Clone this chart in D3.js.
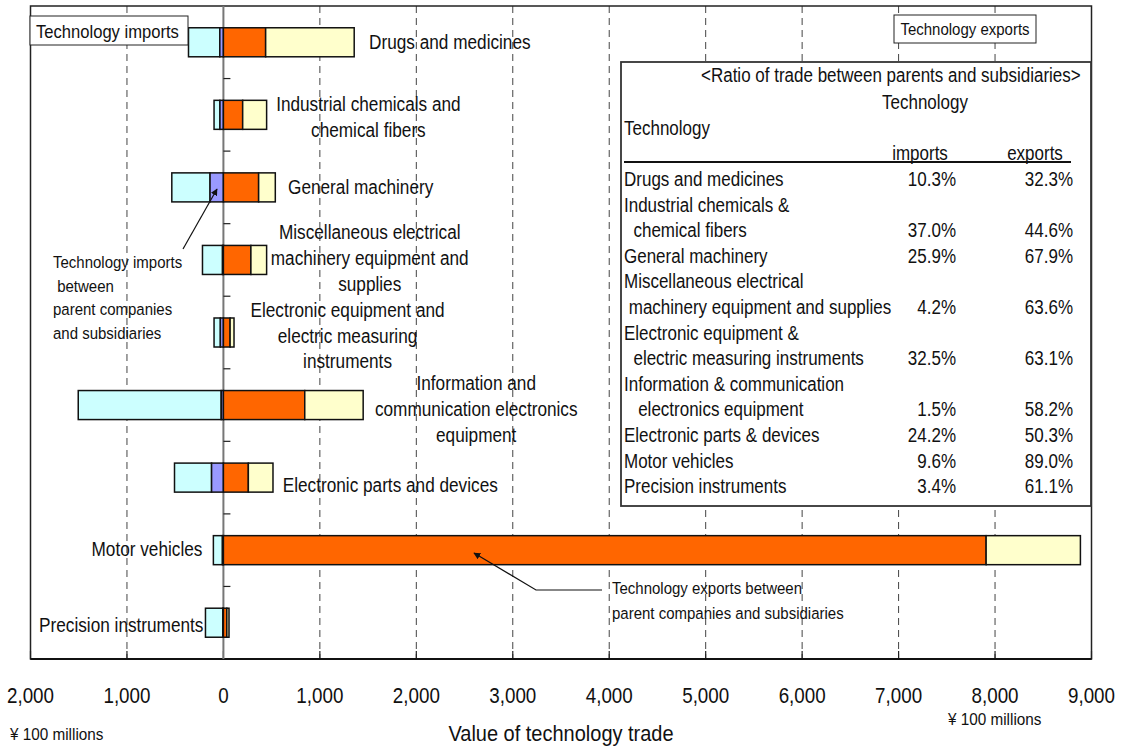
<!DOCTYPE html>
<html>
<head>
<meta charset="utf-8">
<script src="https://cdn.jsdelivr.net/npm/d3@7/dist/d3.min.js"></script>
<style>
    body { margin: 0; background: #ffffff; }
    svg text { font-family: "Liberation Sans", Arial, sans-serif; fill: #111111; white-space: pre; }
</style>
</head>
<body>
<svg id="canvas" width="1122" height="749"></svg>
<script>
// industries, top to bottom
let categories = [
    'Drugs and medicines',
    'Industrial chemicals and chemical fibers',
    'General machinery',
    'Miscellaneous electrical machinery equipment and supplies',
    'Electronic equipment and electric measuring instruments',
    'Information and communication electronics equipment',
    'Electronic parts and devices',
    'Motor vehicles',
    'Precision instruments'
]

// label lines shown next to the bars
let chartLabels = [
    ['Drugs and medicines'],
    ['Industrial chemicals and', 'chemical fibers'],
    ['General machinery'],
    ['Miscellaneous electrical', 'machinery equipment and', 'supplies'],
    ['Electronic equipment and', 'electric measuring', 'instruments'],
    ['Information and', 'communication electronics', 'equipment'],
    ['Electronic parts and devices'],
    ['Motor vehicles'],
    ['Precision instruments']
]

// value of technology trade, 100 million yen
let importTotals = [362, 97, 535, 217, 97, 1505, 507, 104, 186]
let exportTotals = [1356, 448, 538, 448, 110, 1449, 514, 8885, 58]

// share of trade between parents and subsidiaries, %
let importRatio = [10.3, 37.0, 25.9, 4.2, 32.5, 1.5, 24.2, 9.6, 3.4]
let exportRatio = [32.3, 44.6, 67.9, 63.6, 63.1, 58.2, 50.3, 89.0, 61.1]

// names as written in the table
let tableNames = [
    ['Drugs and medicines'],
    ['Industrial chemicals &', '  chemical fibers'],
    ['General machinery'],
    ['Miscellaneous electrical', ' machinery equipment and supplies'],
    ['Electronic equipment &', '  electric measuring instruments'],
    ['Information & communication', '   electronics equipment'],
    ['Electronic parts & devices'],
    ['Motor vehicles'],
    ['Precision instruments']
]

let xTicks = [-2000, -1000, 0, 1000, 2000, 3000, 4000, 5000, 6000, 7000, 8000, 9000]

// where each chart label sits: anchor, value on x axis, vertical nudge
let labelLayout = [
    ['start', 1510, 0], ['middle', 1503, 2], ['start', 670, 0],
    ['middle', 1517, -2], ['middle', 1287, 3], ['middle', 2621, 4],
    ['start', 615, 7], ['end', -218, -1], ['end', -207, 2]
]

let colors = {
    imp: '#ccffff',
    impParent: '#9999ff',
    expParent: '#ff6600',
    exp: '#ffffcc'
}

let canvas = d3.select('#canvas')

let plotLeft = 30.5, plotRight = 1091.5, plotTop = 6, plotBottom = 659

// the original type is a bit condensed
let squeeze = 0.88

let addText = (parent, x, y, str, size, anchor) => {
    return parent.append('text')
        .attr('transform', 'translate(' + x + ',' + y + ') scale(' + squeeze + ',1)')
        .attr('dy', '0.36em')
        .attr('font-size', size / squeeze)
        .attr('text-anchor', anchor || 'start')
        .text(str)
}

let xScale = d3.scaleLinear()
                .domain([-2000, 9000])
                .range([plotLeft, plotRight])

let yScale = d3.scaleBand()
                .domain(categories)
                .range([plotTop, plotBottom])
                .paddingInner(0.6)
                .paddingOuter(0.3)

let defs = canvas.append('defs')
defs.append('marker')
    .attr('id', 'arrow')
    .attr('viewBox', '0 0 10 10')
    .attr('refX', 9)
    .attr('refY', 5)
    .attr('markerWidth', 7)
    .attr('markerHeight', 7)
    .attr('markerUnits', 'userSpaceOnUse')
    .attr('orient', 'auto')
    .append('path')
    .attr('d', 'M0,0 L10,5 L0,10 Z')
    .attr('fill', '#111')

// dashed grid
canvas.append('g')
    .selectAll('line')
    .data(xTicks.filter((d) => d !== 0 && d !== -2000 && d !== 9000))
    .enter()
    .append('line')
    .attr('x1', (d) => xScale(d))
    .attr('x2', (d) => xScale(d))
    .attr('y1', plotTop)
    .attr('y2', plotBottom)
    .attr('stroke', '#444')
    .attr('stroke-width', 1)
    .attr('stroke-dasharray', '7,5')

// small ticks on the bottom axis
canvas.append('g')
    .selectAll('line')
    .data(xTicks)
    .enter()
    .append('line')
    .attr('x1', (d) => xScale(d))
    .attr('x2', (d) => xScale(d))
    .attr('y1', plotBottom - 8)
    .attr('y2', plotBottom)
    .attr('stroke', '#222')
    .attr('stroke-width', 1.2)

// frame
canvas.append('rect')
    .attr('x', plotLeft)
    .attr('y', plotTop)
    .attr('width', plotRight - plotLeft)
    .attr('height', plotBottom - plotTop)
    .attr('fill', 'none')
    .attr('stroke', '#222')
    .attr('stroke-width', 1.5)
canvas.append('line')
    .attr('x1', plotLeft).attr('x2', plotRight)
    .attr('y1', plotBottom).attr('y2', plotBottom)
    .attr('stroke', '#111')
    .attr('stroke-width', 2)

// zero line with category ticks
canvas.append('line')
    .attr('x1', xScale(0)).attr('x2', xScale(0))
    .attr('y1', plotTop).attr('y2', plotBottom)
    .attr('stroke', '#777')
    .attr('stroke-width', 2)

canvas.append('g')
    .selectAll('line')
    .data(categories.slice(1))
    .enter()
    .append('line')
    .attr('x1', xScale(0))
    .attr('x2', xScale(0) + 7)
    .attr('y1', (d) => yScale(d) - yScale.step() * yScale.paddingInner() / 2)
    .attr('y2', (d) => yScale(d) - yScale.step() * yScale.paddingInner() / 2)
    .attr('stroke', '#222')
    .attr('stroke-width', 1.2)

// bar segments
let segments = []
categories.forEach((cat, i) => {
    let impParent = importTotals[i] * importRatio[i] / 100
    let expParent = exportTotals[i] * exportRatio[i] / 100
    segments.push({cat: cat, x0: -importTotals[i], x1: -impParent, fill: colors.imp})
    segments.push({cat: cat, x0: -impParent, x1: 0, fill: colors.impParent})
    segments.push({cat: cat, x0: 0, x1: expParent, fill: colors.expParent})
    segments.push({cat: cat, x0: expParent, x1: exportTotals[i], fill: colors.exp})
})

canvas.append('g')
    .selectAll('rect')
    .data(segments)
    .enter()
    .append('rect')
    .attr('x', (d) => xScale(d.x0))
    .attr('width', (d) => xScale(d.x1) - xScale(d.x0))
    .attr('y', (d) => yScale(d.cat))
    .attr('height', yScale.bandwidth())
    .attr('fill', (d) => d.fill)
    .attr('stroke', '#111')
    .attr('stroke-width', 1.5)

// category labels beside the bars
let lineGap = 25.7
categories.forEach((cat, i) => {
    let lines = chartLabels[i]
    let lay = labelLayout[i]
    let cy = yScale(cat) + yScale.bandwidth() / 2 + lay[2]
    lines.forEach((ln, j) => {
        addText(canvas, xScale(lay[1]), cy + (j - (lines.length - 1) / 2) * lineGap, ln, 17.2, lay[0])
    })
})

// x axis labels
xTicks.forEach((d) => {
    addText(canvas, xScale(d), 695, d3.format(',')(Math.abs(d)), 18.8, 'middle')
})

addText(canvas, 561, 733, 'Value of technology trade', 20, 'middle')
addText(canvas, 10, 734, '\u00a5 100 millions', 15.3)
addText(canvas, 948, 719, '\u00a5 100 millions', 15.3)

// boxed titles
canvas.append('rect')
    .attr('x', 30).attr('y', 16)
    .attr('width', 158).attr('height', 29)
    .attr('fill', '#fff')
    .attr('stroke', '#222')
    .attr('stroke-width', 1)
addText(canvas, 36, 31, 'Technology imports', 16.6)

canvas.append('rect')
    .attr('x', 894).attr('y', 15)
    .attr('width', 142).attr('height', 28)
    .attr('fill', '#fff')
    .attr('stroke', '#222')
    .attr('stroke-width', 1)
addText(canvas, 965, 29, 'Technology exports', 15, 'middle')

// ratio table
let table = canvas.append('g')
table.append('rect')
    .attr('x', 621).attr('y', 62)
    .attr('width', 470).attr('height', 444)
    .attr('fill', '#fff')
    .attr('stroke', '#333')
    .attr('stroke-width', 1.8)

let tf = 17
addText(table, 701, 75, '<Ratio of trade between parents and subsidiaries>', tf)
addText(table, 925, 102, 'Technology', tf, 'middle')
addText(table, 624, 128, 'Technology', tf)
addText(table, 920, 153, 'imports', tf, 'middle')
addText(table, 1035, 153, 'exports', tf, 'middle')
table.append('line')
    .attr('x1', 624).attr('x2', 1071)
    .attr('y1', 162).attr('y2', 162)
    .attr('stroke', '#111')
    .attr('stroke-width', 2)

let row = 0
tableNames.forEach((names, i) => {
    names.forEach((nm, j) => {
        let y = 179 + row * 25.6
        addText(table, 624, y, nm, tf)
        if (j === names.length - 1) {
            addText(table, 956, y, importRatio[i].toFixed(1) + '%', tf, 'end')
            addText(table, 1073, y, exportRatio[i].toFixed(1) + '%', tf, 'end')
        }
        row++
    })
})

// annotation: imports between parents and subsidiaries
let noteImp = ['Technology imports', ' between', 'parent companies', 'and subsidiaries']
noteImp.forEach((t, j) => {
    addText(canvas, 53, 262 + j * 23.6, t, 15)
})
canvas.append('line')
    .attr('x1', 183).attr('y1', 249)
    .attr('x2', 217).attr('y2', 189)
    .attr('stroke', '#111')
    .attr('stroke-width', 1.2)
    .attr('marker-end', 'url(#arrow)')

// annotation: exports between parents and subsidiaries
let noteExp = ['Technology exports between', 'parent companies and subsidiaries']
noteExp.forEach((t, j) => {
    addText(canvas, 612, 588 + j * 24.4, t, 15)
})
canvas.append('polyline')
    .attr('points', '602,590 536,590 474,553')
    .attr('fill', 'none')
    .attr('stroke', '#111')
    .attr('stroke-width', 1.2)
    .attr('marker-end', 'url(#arrow)')
</script>
</body>
</html>
